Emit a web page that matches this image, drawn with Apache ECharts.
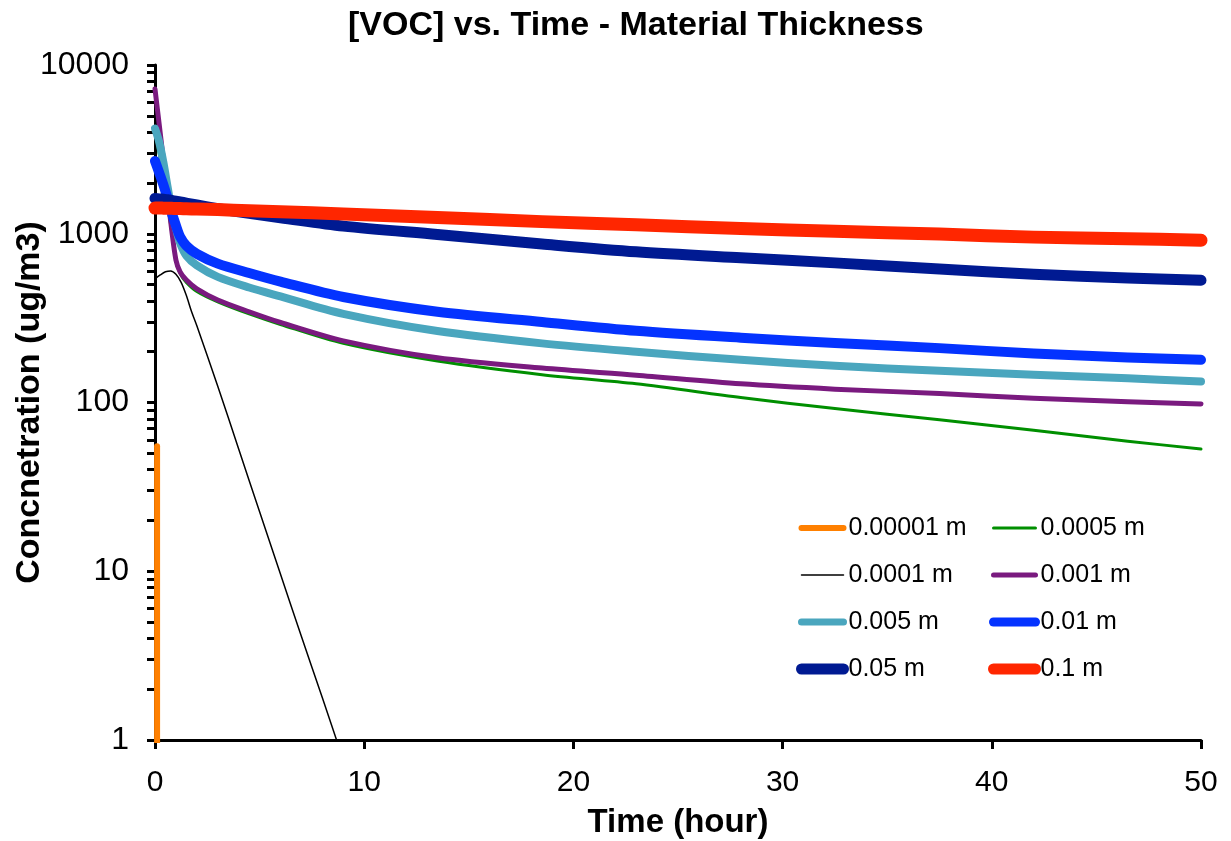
<!DOCTYPE html>
<html>
<head>
<meta charset="utf-8">
<script src="https://cdn.jsdelivr.net/npm/echarts@6/dist/echarts.min.js"></script>
<style>html,body{margin:0;padding:0;background:#fff;}#c{width:1231px;height:841px;}</style>
</head>
<body>
<div id="c"></div>
<script>
// ---- data ----
const seriesNames = ['0.00001 m','0.0005 m','0.0001 m','0.001 m','0.005 m','0.01 m','0.05 m','0.1 m'];
const xTicks = [0,10,20,30,40,50];
const yTicks = [1,10,100,1000,10000];

// shared time grid (hours) for the thicker materials
const timeMain = [0,0.2,0.4,0.6,0.8,1.0,1.2,1.5,2,3,4.5,6,9,13.5,18.5,23,28,32.5,37.5,42,46.5,50];
const conc0005 = [4000,3000,2150,1500,1020,690,580,515,455,395,335,290,224,176,146,129,107,92,79,68.5,59,53];
const conc001  = [7200,4450,2750,1700,1050,700,595,532,472,405,345,298,232,184,160,145,129,120,113,106,101,98];
const conc005  = [4200,3500,2650,1900,1380,1080,880,740,650,555,480,425,335,265,224,200,179,165,154,146,139,133];
const conc01   = [2700,2300,1950,1620,1330,1120,960,850,760,665,585,520,422,345,300,266,242,225,210,195,185,179];
const conc05   = [1620,1610,1600,1590,1575,1560,1545,1520,1480,1410,1320,1245,1110,990,870,782,720,672,618,576,547,530];
const conc1    = [1420,1420,1418,1416,1414,1412,1410,1405,1400,1390,1370,1350,1310,1250,1180,1130,1075,1035,995,955,935,915];

// thinnest materials
const time00001 = [0.1,0.1];
const conc00001 = [55,0.1];
const time0001 = [0,0.25,0.5,0.75,1.0,1.25,1.5,1.75,2,3,4,5,6,7,8,9];
const conc0001 = [540,570,595,602,575,515,430,345,285,125,53,22.5,9.6,4.1,1.78,0.76];

const colors = ['#FF8000','#008F00','#000000','#7A1A7F','#4AA6BE','#0433FF','#001A92','#FF2600'];
const widths = [6,3,1.5,5,8,10,11,13];
const legendWidths = [6,3,1.5,5,7,9,11,11];

function zip(t,v){ return t.map((x,i)=>[x,v[i]]); }
const dataSets = [
  zip(time00001,conc00001),
  zip(timeMain,conc0005),
  zip(time0001,conc0001),
  zip(timeMain,conc001),
  zip(timeMain,conc005),
  zip(timeMain,conc01),
  zip(timeMain,conc05),
  zip(timeMain,conc1)
];

const FONT = "'Liberation Sans', Arial, Helvetica, sans-serif";
const minorVals = [];
for (let d=1; d<10000; d*=10) for (let k=1;k<=10;k++) minorVals.push(d*k);

function legendItem(i){
  return {name:seriesNames[i], lineStyle:{width:legendWidths[i],color:colors[i],cap:'round'}};
}
const legendBase = {
  orient:'vertical', top:509, itemWidth:42, itemHeight:14, itemGap:19,
  textStyle:{fontFamily:FONT,fontSize:25,color:'#000',lineHeight:28},
  itemStyle:{opacity:0}
};
const chart = echarts.init(document.getElementById('c'), null, {renderer:'canvas'});
const option = {
  animation:false,
  backgroundColor:'#fff',
  title:{
    text:'[VOC] vs. Time - Material Thickness',
    left:343, top:4,
    textStyle:{fontFamily:FONT,fontSize:34,fontWeight:'bold',color:'#000'}
  },
  legend:[
    Object.assign({}, legendBase, {left:791, data:[0,2,4,6].map(legendItem)}),
    Object.assign({}, legendBase, {left:983, data:[1,3,5,7].map(legendItem)})
  ],
  grid:{left:155,right:30,top:65,bottom:101,containLabel:false,outerBoundsMode:'none'},
  xAxis:{
    type:'value', min:0, max:50, interval:10,
    name:'Time (hour)', nameLocation:'middle', nameGap:66, nameMoveOverlap:false,
    nameTextStyle:{fontFamily:FONT,fontSize:33,fontWeight:'bold',color:'#000'},
    axisLine:{show:true,lineStyle:{color:'#000',width:3}},
    axisTick:{show:true,inside:false,length:9,lineStyle:{color:'#000',width:3}},
    axisLabel:{fontFamily:FONT,fontSize:30,color:'#000',margin:28,customValues:xTicks},
    splitLine:{show:false}
  },
  yAxis:{
    type:'log', logBase:10, min:1, max:10000,
    name:'Concnetration (ug/m3)', nameLocation:'middle', nameGap:108, nameRotate:90, nameMoveOverlap:false,
    nameTextStyle:{fontFamily:FONT,fontSize:34,fontWeight:'bold',color:'#000'},
    axisLine:{show:true,lineStyle:{color:'#000',width:3}},
    axisTick:{show:true,inside:false,length:8,lineStyle:{color:'#000',width:3},customValues:minorVals},
    axisLabel:{fontFamily:FONT,fontSize:32,color:'#000',margin:26,customValues:yTicks,
      formatter:function(v){return String(Math.round(v));}},
    splitLine:{show:false},
    minorTick:{show:false}
  },
  series: seriesNames.map((n,i)=>({
    name:n, type:'line', data:dataSets[i],
    showSymbol:false, symbol:'none',
    smooth: i===0 ? false : 0.3,
    clip:true,
    lineStyle:{color:colors[i],width:widths[i],cap:'round',join:'round'},
    itemStyle:{color:colors[i]},
    z: 2+i
  }))
};
chart.setOption(option);
</script>
</body>
</html>
